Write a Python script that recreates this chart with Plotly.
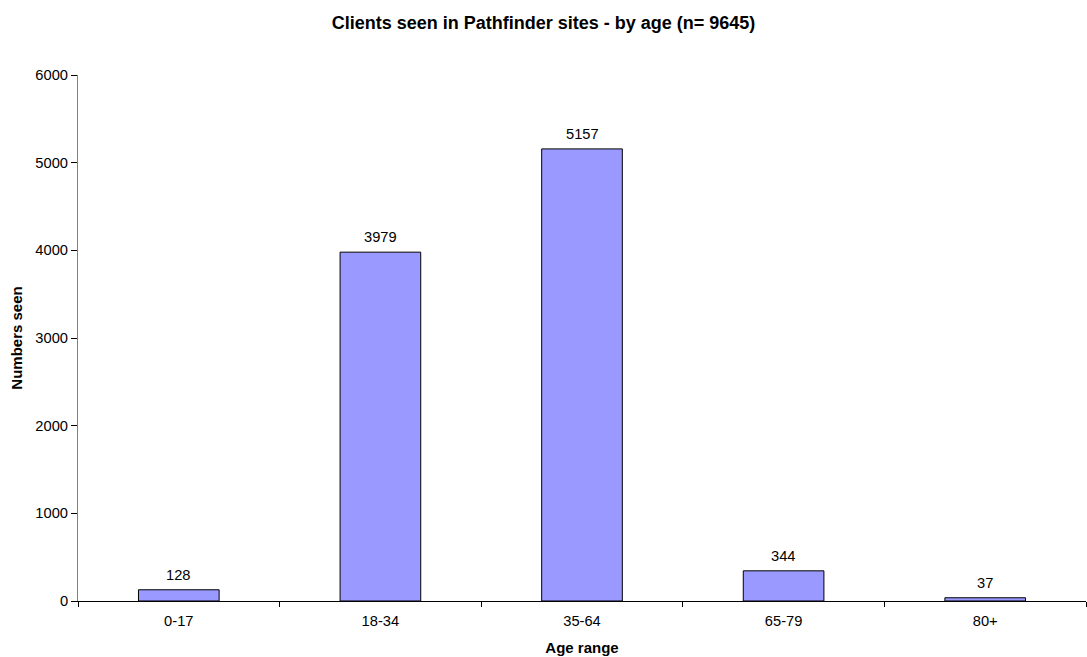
import plotly.graph_objects as go

categories = ["0-17", "18-34", "35-64", "65-79", "80+"]
values = [128, 3979, 5157, 344, 37]
title_text = "Clients seen in Pathfinder sites - by age (n= 9645)"
x_title = "Age range"
y_title = "Numbers seen"

FONT = "Liberation Sans, Arial"

fig = go.Figure(go.Bar(
    x=categories, y=values,
    marker=dict(color="#9999FF", line=dict(color="#000000", width=1)),
))

for c, v in zip(categories, values):
    fig.add_annotation(x=c, y=v, text=str(v), showarrow=False,
                       yanchor="bottom", yshift=5,
                       font=dict(family=FONT, size=14.7, color="#000000"))

fig.update_layout(
    width=1087, height=657,
    margin=dict(l=78, r=1, t=75, b=56),
    paper_bgcolor="white", plot_bgcolor="white",
    bargap=0.6,
    showlegend=False,
    font=dict(family=FONT, size=14.7, color="#000000"),
    title=dict(text="<b>" + title_text + "</b>", x=0.5, xanchor="center",
               y=1 - 22.5/657, yanchor="middle",
               font=dict(size=18, family=FONT)),
)
fig.update_xaxes(
    showline=True, linecolor="#000000", linewidth=1,
    ticks="outside", tickson="boundaries", ticklen=5, tickcolor="#000000",
    ticklabelstandoff=6,
    showgrid=False,
    title=dict(text="<b>" + x_title + "</b>", font=dict(size=15), standoff=14),
    tickfont=dict(size=14.7),
)
fig.update_yaxes(
    range=[0, 6000], dtick=1000,
    showline=True, linecolor="#808080", linewidth=1,
    ticks="outside", ticklen=6, tickcolor="#000000",
    showgrid=False, zeroline=False,
    title=dict(text="<b>" + y_title + "</b>", font=dict(size=15), standoff=9),
    tickfont=dict(size=14.7),
)

fig.write_html("out.html")
